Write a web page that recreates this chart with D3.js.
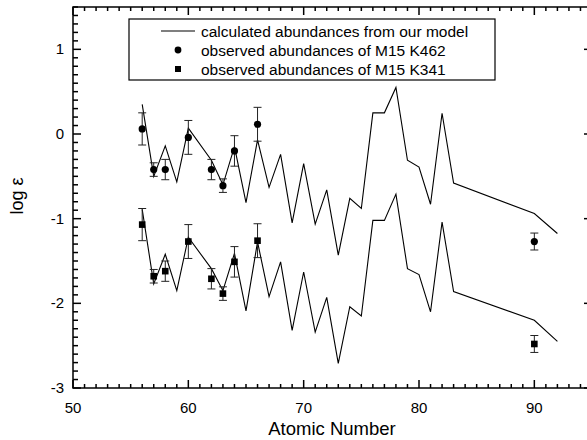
<!DOCTYPE html>
<html>
<head>
<meta charset="utf-8">
<script src="https://cdn.jsdelivr.net/npm/d3@7"></script>
<style>
  body { margin: 0; background: #fff; }
  svg { display: block; font-family: "Liberation Sans", Arial, sans-serif; }
</style>
</head>
<body>
<svg id="chart" width="587" height="440"></svg>
<script>
// model curve, atomic numbers
const modelZ = [56, 57, 58, 59, 60, 62, 63, 64, 65, 66, 67, 68, 69, 70, 71, 72, 73, 74, 75, 76, 77, 78, 79, 80, 81, 82, 83, 90, 92];
const modelK462 = [0.35, -0.5, -0.14, -0.565, 0.07, -0.31, -0.6, -0.15, -0.81, -0.07, -0.63, -0.24, -1.05, -0.35, -1.065, -0.66, -1.43, -0.76, -0.88, 0.25, 0.25, 0.55, -0.31, -0.39, -0.83, 0.245, -0.58, -0.94, -1.175];
const modelK341 = [-0.89, -1.77, -1.42, -1.85, -1.22, -1.59, -1.85, -1.41, -2.09, -1.275, -1.92, -1.51, -2.32, -1.63, -2.34, -1.93, -2.71, -2.04, -2.15, -1.02, -1.02, -0.71, -1.59, -1.66, -2.1, -1.04, -1.86, -2.2, -2.45];

// observations
const obsZ = [56, 57, 58, 60, 62, 63, 64, 66, 90];
const obsK462 = [0.06, -0.42, -0.42, -0.04, -0.42, -0.61, -0.2, 0.115, -1.27];
const obsK341 = [-1.07, -1.68, -1.62, -1.27, -1.71, -1.885, -1.51, -1.26, -2.48];
const obsErr = [0.19, 0.08, 0.12, 0.2, 0.12, 0.08, 0.18, 0.2, 0.1];

const xTicks = [50, 60, 70, 80, 90];
const yTicks = [-3, -2, -1, 0, 1];
const legendLabels = [
  "calculated abundances from our model",
  "observed abundances of M15 K462",
  "observed abundances of M15 K341"
];

const svg = d3.select("#chart");
const padL = 73, padR = 592, padT = 7, padB = 388;

const x = d3.scaleLinear().domain([50, 95]).range([padL, padR]);
const y = d3.scaleLinear().domain([-3, 1.5]).range([padB, padT]);

const ax = svg.append("g").attr("stroke", "#000").attr("stroke-width", 1.5);

// frame
svg.append("rect")
  .attr("x", padL).attr("y", padT)
  .attr("width", padR - padL).attr("height", padB - padT)
  .attr("fill", "none").attr("stroke", "#000").attr("stroke-width", 1.5);

// x ticks (bottom + top, inward)
d3.range(50, 96).forEach(v => {
  const len = v % 10 === 0 ? 8 : 4;
  ax.append("line").attr("x1", x(v)).attr("x2", x(v)).attr("y1", padB).attr("y2", padB - len);
  ax.append("line").attr("x1", x(v)).attr("x2", x(v)).attr("y1", padT).attr("y2", padT + len);
});

// y ticks (left: major + minor, right: major)
d3.range(-30, 16).forEach(i => {
  const v = i / 10;
  const major = i % 10 === 0;
  ax.append("line").attr("x1", padL).attr("x2", padL + (major ? 8 : 5)).attr("y1", y(v)).attr("y2", y(v));
  if (major) ax.append("line").attr("x1", padR).attr("x2", padR - 8).attr("y1", y(v)).attr("y2", y(v));
});

svg.append("g").selectAll("text").data(xTicks).join("text")
  .attr("x", d => x(d)).attr("y", 413)
  .attr("text-anchor", "middle").attr("font-size", 15)
  .text(d => d);

svg.append("g").selectAll("text").data(yTicks).join("text")
  .attr("x", 64).attr("y", d => y(d) + 5)
  .attr("text-anchor", "end").attr("font-size", 15)
  .text(d => d);

svg.append("text")
  .attr("x", 332).attr("y", 435)
  .attr("text-anchor", "middle").attr("font-size", 18.5)
  .text("Atomic Number");

svg.append("text")
  .attr("transform", "translate(23,196) rotate(-90)")
  .attr("text-anchor", "middle").attr("font-size", 18)
  .text("log ε");

// model lines
const line = d3.line().x(d => x(d[0])).y(d => y(d[1]));
[modelK462, modelK341].forEach(vals => {
  svg.append("path")
    .datum(modelZ.map((z, i) => [z, vals[i]]))
    .attr("fill", "none").attr("stroke", "#000").attr("stroke-width", 1.1)
    .attr("d", line);
});

// error bars + symbols
function drawObs(vals, shape) {
  const g = svg.append("g");
  obsZ.forEach((z, i) => {
    const cx = x(z), lo = y(vals[i] - obsErr[i]), hi = y(vals[i] + obsErr[i]);
    g.append("line").attr("x1", cx).attr("x2", cx).attr("y1", lo).attr("y2", hi)
      .attr("stroke", "#222").attr("stroke-width", 1);
    [lo, hi].forEach(yy => g.append("line").attr("x1", cx - 4).attr("x2", cx + 4)
      .attr("y1", yy).attr("y2", yy).attr("stroke", "#222").attr("stroke-width", 1));
    if (shape === "circle") {
      g.append("circle").attr("cx", cx).attr("cy", y(vals[i])).attr("r", 3.6).attr("fill", "#000");
    } else {
      g.append("rect").attr("x", cx - 3.3).attr("y", y(vals[i]) - 3.3)
        .attr("width", 6.6).attr("height", 6.6).attr("fill", "#000");
    }
  });
}
drawObs(obsK462, "circle");
drawObs(obsK341, "square");

// legend
const lg = svg.append("g");
lg.append("rect").attr("x", 129).attr("y", 19).attr("width", 366).attr("height", 61)
  .attr("fill", "#fff").attr("stroke", "#000").attr("stroke-width", 1.2);
const rows = [31, 50, 69];
lg.append("line").attr("x1", 161).attr("x2", 195).attr("y1", rows[0]).attr("y2", rows[0])
  .attr("stroke", "#000").attr("stroke-width", 1.1);
lg.append("circle").attr("cx", 178).attr("cy", rows[1]).attr("r", 3.4).attr("fill", "#000");
lg.append("rect").attr("x", 175).attr("y", rows[2] - 3).attr("width", 6).attr("height", 6).attr("fill", "#000");
legendLabels.forEach((t, i) => {
  lg.append("text").attr("x", 201).attr("y", rows[i] + 5.5)
    .attr("font-size", 15.5).text(t);
});
</script>
</body>
</html>
